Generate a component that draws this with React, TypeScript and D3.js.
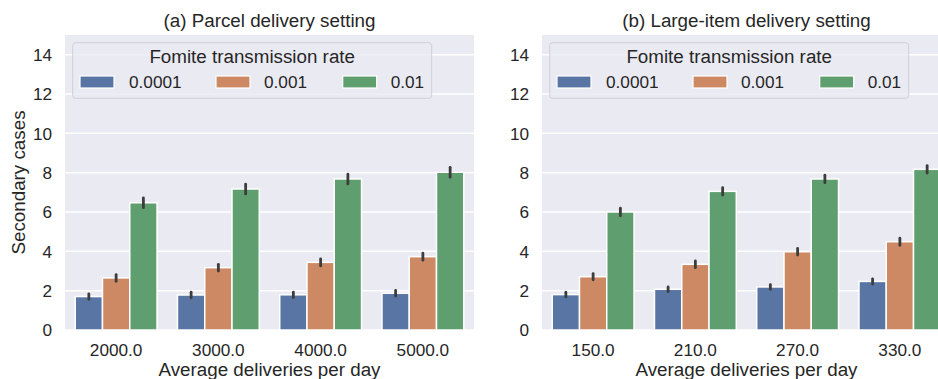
import React from "react";
import * as d3 from "d3";

// Fomite transmission rates (hue levels), seaborn "deep" at 0.75 saturation
const rates = ["0.0001", "0.001", "0.01"];
const colors = ["#5975A4", "#CC8963", "#5F9E6E"];

// (a) Parcel delivery setting
const parcelDeliveries = ["2000.0", "3000.0", "4000.0", "5000.0"];
const parcelLow = [1.70, 1.78, 1.79, 1.87];
const parcelMid = [2.65, 3.17, 3.44, 3.73];
const parcelHigh = [6.47, 7.17, 7.68, 8.02];
const parcelErrLow = [0.14, 0.14, 0.14, 0.14];
const parcelErrMid = [0.17, 0.17, 0.18, 0.18];
const parcelErrHigh = [0.25, 0.25, 0.25, 0.25];

// (b) Large-item delivery setting
const largeDeliveries = ["150.0", "210.0", "270.0", "330.0"];
const largeLow = [1.80, 2.07, 2.19, 2.47];
const largeMid = [2.71, 3.34, 3.98, 4.49];
const largeHigh = [6.0, 7.05, 7.68, 8.17];
const largeErrLow = [0.12, 0.12, 0.12, 0.13];
const largeErrMid = [0.16, 0.17, 0.17, 0.18];
const largeErrHigh = [0.19, 0.19, 0.19, 0.19];

const yTicks = [0, 2, 4, 6, 8, 10, 12, 14];

const W = 938;
const H = 379;
const FONT = "'Liberation Sans', Arial, Helvetica, sans-serif";
const LABEL_SIZE = 18.8;
const TICK_SIZE = 17.2;
const BG = "#EAEAF2";
const INK = "#262626";

type PanelProps = {
  left: number;
  title: string;
  categories: string[];
  series: number[][];
  errors: number[][];
  showYLabel: boolean;
};

const plotTop = 35;
const plotBottom = 330;
const plotWidth = 409;

function Panel({ left, title, categories, series, errors, showYLabel }: PanelProps) {
  const x = d3.scaleBand<string>().domain(categories).range([left, left + plotWidth]).paddingInner(0).paddingOuter(0);
  const hue = d3
    .scaleBand<string>()
    .domain(rates)
    .range([x.bandwidth() * 0.1, x.bandwidth() * 0.9]);
  const y = d3.scaleLinear().domain([0, 15]).range([plotBottom, plotTop]);
  const cx = left + plotWidth / 2;

  // legend geometry, relative to plot left edge
  const lgX = left + 7.7;
  const lgY = 42.7;
  const patchX = [7.3, 143.3, 270];
  const labelX = [56.3, 191.3, 318];

  return (
    <g>
      <rect x={left} y={plotTop} width={plotWidth} height={plotBottom - plotTop} fill={BG} />
      {yTicks.map((t) => (
        <line key={"g" + t} x1={left} x2={left + plotWidth} y1={y(t)} y2={y(t)} stroke="#fff" strokeWidth={1.5} />
      ))}
      {yTicks.map((t) => (
        <text
          key={"t" + t}
          x={left - 13}
          y={y(t)}
          dy="0.36em"
          textAnchor="end"
          fontSize={TICK_SIZE}
          fill={INK}
          fontFamily={FONT}
        >
          {t}
        </text>
      ))}
      {series.map((vals, si) =>
        vals.map((v, ci) => {
          const bx = (x(categories[ci]) as number) + (hue(rates[si]) as number);
          return (
            <rect
              key={`b${si}-${ci}`}
              x={bx}
              y={y(v)}
              width={hue.bandwidth()}
              height={y(0) - y(v)}
              fill={colors[si]}
              stroke="#fff"
              strokeWidth={1.5}
            />
          );
        })
      )}
      {series.map((vals, si) =>
        vals.map((v, ci) => {
          const bx = (x(categories[ci]) as number) + (hue(rates[si]) as number) + hue.bandwidth() / 2;
          const e = errors[si][ci];
          return (
            <line
              key={`e${si}-${ci}`}
              x1={bx}
              x2={bx}
              y1={y(v - e)}
              y2={y(v + e)}
              stroke="#3d3d3d"
              strokeWidth={2.8}
              strokeLinecap="round"
            />
          );
        })
      )}
      {categories.map((c) => (
        <text
          key={"x" + c}
          x={(x(c) as number) + x.bandwidth() / 2}
          y={356}
          textAnchor="middle"
          fontSize={TICK_SIZE}
          fill={INK}
          fontFamily={FONT}
        >
          {c}
        </text>
      ))}
      <text x={cx} y={376} textAnchor="middle" fontSize={LABEL_SIZE} fill={INK} fontFamily={FONT}>
        Average deliveries per day
      </text>
      <text x={cx} y={27} textAnchor="middle" fontSize={LABEL_SIZE} fill={INK} fontFamily={FONT}>
        {title}
      </text>
      {showYLabel && (
        <text
          transform={`translate(25, ${(plotTop + plotBottom) / 2}) rotate(-90)`}
          textAnchor="middle"
          fontSize={LABEL_SIZE}
          fill={INK}
          fontFamily={FONT}
        >
          Secondary cases
        </text>
      )}
      <g>
        <rect
          x={lgX}
          y={lgY}
          width={359}
          height={55.6}
          rx={3}
          fill={BG}
          fillOpacity={0.8}
          stroke="#cfcfd4"
          strokeWidth={1}
        />
        <text
          x={lgX + 359 / 2}
          y={63.3}
          textAnchor="middle"
          fontSize={LABEL_SIZE}
          fill={INK}
          fontFamily={FONT}
        >
          Fomite transmission rate
        </text>
        {rates.map((r, i) => (
          <g key={"l" + r}>
            <rect x={lgX + patchX[i]} y={76} width={34} height={12} fill={colors[i]} stroke="#fff" strokeWidth={1.2} />
            <text x={lgX + labelX[i]} y={88.3} fontSize={TICK_SIZE} fill={INK} fontFamily={FONT}>
              {r}
            </text>
          </g>
        ))}
      </g>
    </g>
  );
}

export default function App() {
  return (
    <svg
      width={W}
      height={H}
      viewBox={`0 0 ${W} ${H}`}
      style={{ position: "absolute", left: 0, top: 0, background: "#fff", overflow: "hidden" }}
    >
      <rect x={0} y={0} width={W} height={H} fill="#fff" />
      <Panel
        left={65}
        title="(a) Parcel delivery setting"
        categories={parcelDeliveries}
        series={[parcelLow, parcelMid, parcelHigh]}
        errors={[parcelErrLow, parcelErrMid, parcelErrHigh]}
        showYLabel={true}
      />
      <Panel
        left={542}
        title="(b) Large-item delivery setting"
        categories={largeDeliveries}
        series={[largeLow, largeMid, largeHigh]}
        errors={[largeErrLow, largeErrMid, largeErrHigh]}
        showYLabel={false}
      />
    </svg>
  );
}
